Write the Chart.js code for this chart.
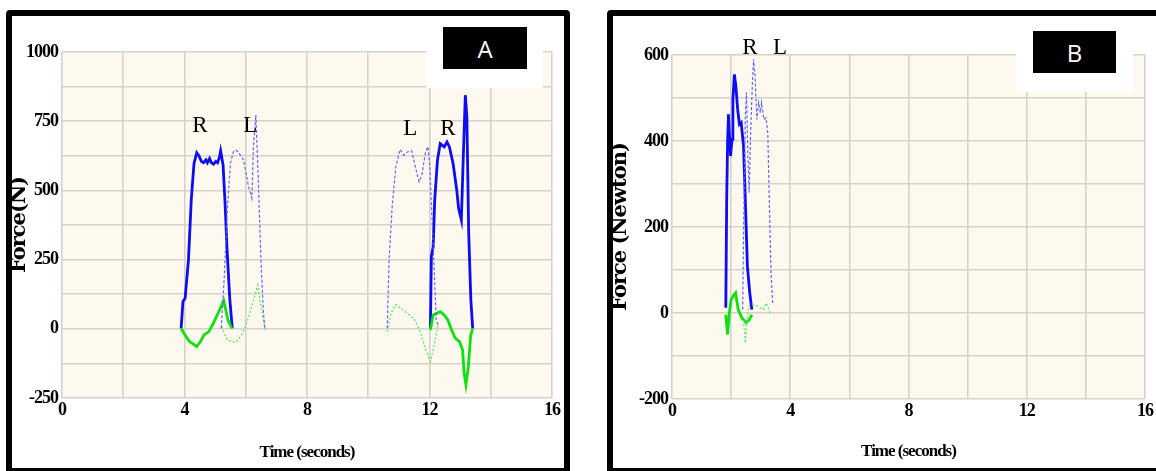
<!DOCTYPE html>
<html><head><meta charset="utf-8">
<script src="https://cdn.jsdelivr.net/npm/chart.js@4"></script>
<style>
html,body{margin:0;padding:0;background:#fff;width:1156px;height:471px;overflow:hidden;position:relative;}
.frame{position:absolute;border:6px solid #000;border-radius:4px;box-sizing:border-box;background:#fff;}
canvas{position:absolute;}
.box{position:absolute;background:#fff;}
.tag{position:absolute;background:#000;color:#fff;font:24px 'Open Sans',sans-serif;display:flex;align-items:center;justify-content:center;}
</style></head><body>
<div class="frame" style="left:6px;top:10px;width:564px;height:464px;"></div>
<div class="frame" style="left:607px;top:10px;width:600px;height:464px;"></div>
<canvas id="cA" width="551" height="452" style="left:12px;top:16px"></canvas>
<canvas id="cB" width="543" height="452" style="left:613px;top:16px"></canvas>
<div class="box" style="left:426px;top:16px;width:117px;height:72px"></div>
<div class="tag" style="left:443px;top:27px;width:84px;height:42px">A</div>
<div class="box" style="left:1016px;top:16px;width:117px;height:76px"></div>
<div class="tag" style="left:1033px;top:31px;width:83px;height:42px">B</div>
<script>
// ---------- Panel A data ----------
// Right foot, vertical force (solid blue)
const aRightVertT1 = [3.89,3.95,4.02,4.13,4.22,4.31,4.40,4.47,4.55,4.62,4.70,4.75,4.82,4.88,4.95,5.02,5.08,5.14,5.18,5.26,5.32,5.39,5.48,5.56];
const aRightVertF1 = [2,99,110,249,465,597,636,625,605,600,610,600,615,600,595,605,600,620,643,591,465,285,105,2];
const aRightVertT2 = [12.03,12.06,12.12,12.17,12.26,12.35,12.48,12.57,12.65,12.77,12.89,12.95,13.04,13.10,13.17,13.22,13.28,13.35,13.41];
const aRightVertF2 = [2,261,297,465,609,669,657,675,657,597,501,435,393,609,844,766,345,105,2];
// Right foot, shear force (solid green)
const aRightShearT1 = [3.89,3.98,4.16,4.40,4.52,4.64,4.80,4.94,5.12,5.28,5.42,5.54];
const aRightShearF1 = [2,-16,-46,-64,-46,-22,-10,20,62,102,32,2];
const aRightShearT2 = [12.03,12.12,12.24,12.35,12.48,12.60,12.72,12.84,12.98,13.08,13.13,13.19,13.27,13.34,13.41];
const aRightShearF2 = [-4,50,56,62,50,32,-4,-34,-46,-76,-160,-202,-136,-28,2];
// Left foot, vertical force (dashed blue)
const aLeftVertT1 = [5.20,5.30,5.39,5.50,5.60,5.66,5.75,5.93,6.09,6.20,6.25,6.33,6.41,6.50,6.58,6.63];
const aLeftVertF1 = [2,189,418,599,640,646,640,610,514,472,659,772,538,237,56,-4];
const aLeftVertT2 = [10.62,10.68,10.78,10.90,11.04,11.16,11.28,11.42,11.51,11.66,11.75,11.87,11.95,12.01,12.08,12.17,12.22,12.28];
const aLeftVertF2 = [2,249,441,585,648,627,639,643,597,531,555,639,658,585,405,165,32,14];
// Left foot, shear force (dashed green)
const aLeftShearT1 = [5.22,5.36,5.54,5.71,5.90,6.08,6.26,6.39,6.50,6.63];
const aLeftShearF1 = [8,-34,-48,-46,-16,38,105,158,81,-3];
const aLeftShearT2 = [10.62,10.74,10.90,11.10,11.34,11.52,11.70,11.87,12.03,12.17,12.28];
const aLeftShearF2 = [-10,56,87,71,50,32,-10,-76,-118,-52,14];
// Foot labels
const aLabelText = ['R','L','L','R'];
const aLabelT = [4.50,6.15,11.37,12.60];
const aLabelF = [733,733,722,722];
const aYTickLabels = [-250,0,250,500,750,1000];
const aXTickLabels = [0,4,8,12,16];

// ---------- Panel B data ----------
const bRightVertT = [1.82,1.85,1.88,1.91,1.94,1.98,2.03,2.06,2.11,2.16,2.22,2.28,2.34,2.42,2.48,2.55,2.63,2.70];
const bRightVertF = [12,264,396,462,419,365,404,497,555,528,474,439,443,388,264,109,47,8];
const bRightShearT = [1.82,1.88,1.94,2.00,2.10,2.15,2.24,2.37,2.51,2.61,2.70];
const bRightShearF = [-4,-50,0,31,43,47,8,-12,-22,-16,-4];
const bLeftVertT = [2.39,2.42,2.48,2.52,2.56,2.61,2.66,2.72,2.76,2.81,2.87,2.93,2.99,3.03,3.11,3.18,3.24,3.29,3.35,3.41];
const bLeftVertF = [8,186,458,513,381,280,419,536,590,551,450,489,466,489,450,454,419,264,93,19];
const bLeftShearT = [2.42,2.48,2.54,2.60,2.72,2.90,3.08,3.20,3.30,3.36];
const bLeftShearF = [-16,-70,-16,16,19,16,8,23,4,-4];
const bLabelText = ['R','L'];
const bLabelT = [2.64,3.65];
const bLabelF = [616,616];
const bYTickLabels = [-200,0,200,400,600];
const bXTickLabels = [0,4,8,12,16];

// ---------- helpers ----------
function pts(t, f){ return t.map((x,i)=>({x:x, y:f[i]})); }
function gap(a, b){ return a.concat([{x:(a[a.length-1].x+b[0].x)/2, y:null}], b); }

const BLUE='#0d0df0', BLUE_L='#6464ff', GREEN='#10e010', GREEN_L='#55e855';
function ds(data, color, width, dash){
  return {data, borderColor:color, borderWidth:width, borderDash:dash||[], pointRadius:0,
          tension:0, fill:false, spanGaps:false};
}

const bgPlugin = {
  id:'plotBg',
  beforeDraw(chart){
    const {ctx, chartArea:a} = chart;
    ctx.save(); ctx.fillStyle='#fdf9ee';
    ctx.fillRect(a.left, a.top, a.right-a.left, a.bottom-a.top);
    ctx.restore();
    ctx.letterSpacing = '-1px';   // condensed look of the original axis lettering
  },
  afterDraw(chart){ chart.ctx.letterSpacing = '0px'; }
};
const labelPlugin = {
  id:'footLabels',
  afterDatasetsDraw(chart, args, opts){
    const {ctx, scales:{x, y}} = chart;
    ctx.save();
    ctx.letterSpacing = '0px';
    ctx.font = "23px 'Liberation Serif', serif";
    ctx.fillStyle = '#000'; ctx.textAlign='center'; ctx.textBaseline='middle';
    opts.text.forEach((s,i)=>ctx.fillText(s, x.getPixelForValue(opts.t[i]), y.getPixelForValue(opts.f[i])));
    ctx.restore();
  }
};

const tickFont = {family:"'Liberation Serif', serif", weight:'bold', size:18};
const gridColor = '#d5d2cc';

function build(id, datasets, cfg){
  return new Chart(document.getElementById(id), {
    type:'line',
    data:{datasets},
    plugins:[bgPlugin, labelPlugin],
    options:{
      responsive:false, animation:false, events:[],
      layout:{padding:{top:cfg.padTop, right:cfg.padRight, left:0, bottom:0}},
      plugins:{legend:{display:false}, tooltip:{enabled:false},
               footLabels:{text:cfg.labText, t:cfg.labT, f:cfg.labF}},
      scales:{
        x:{type:'linear', min:0, max:16,
           afterFit(s){ s.height = cfg.xH; },
           ticks:{stepSize:2, autoSkip:false, maxRotation:0, padding:2, color:'#000', font:tickFont,
                  callback:v=>cfg.xLabels.includes(v)?String(v):''},
           grid:{color:gridColor, lineWidth:1.6, drawTicks:false},
           border:{display:false},
           title:{display:true, text:'Time (seconds)', color:'#000',
                  font:{family:"'Liberation Serif', serif", weight:'bold', size:17, lineHeight:1.2},
                  padding:{top:0, bottom:cfg.xTitlePad}}},
        y:{type:'linear', min:cfg.yMin, max:cfg.yMax,
           afterFit(s){ s.width = cfg.yW; },
           ticks:{stepSize:cfg.yStep, autoSkip:false, padding:4, color:'#000', font:tickFont,
                  callback:v=>cfg.yLabels.includes(v)?String(v):''},
           grid:{color:gridColor, lineWidth:1.6, drawTicks:false},
           border:{display:false},
           title:{display:true, text:cfg.yTitle, color:'#000',
                  font:{family:"'DejaVu Serif', serif", weight:'bold', size:cfg.yTitleSize, lineHeight:1},
                  padding:{top:cfg.yTitlePad, bottom:0}}}
      }
    }
  });
}

build('cA', [
  ds(gap(pts(aLeftVertT1,aLeftVertF1), pts(aLeftVertT2,aLeftVertF2)), BLUE_L, 1.2, [3,2]),
  ds(gap(pts(aLeftShearT1,aLeftShearF1), pts(aLeftShearT2,aLeftShearF2)), GREEN_L, 1.2, [2,2]),
  ds(gap(pts(aRightShearT1,aRightShearF1), pts(aRightShearT2,aRightShearF2)), GREEN, 2.8),
  ds(gap(pts(aRightVertT1,aRightVertF1), pts(aRightVertT2,aRightVertF2)), BLUE, 2.8)
], {padTop:36, padRight:7, xH:70, yW:50, yMin:-250, yMax:1000, yStep:125,
    xLabels:aXTickLabels, yLabels:aYTickLabels, yTitle:'Force(N)', yTitleSize:21, yTitlePad:-3,
    xTitlePad:5, labText:aLabelText, labT:aLabelT, labF:aLabelF});

build('cB', [
  ds(pts(bLeftVertT,bLeftVertF), BLUE_L, 1.2, [3,2]),
  ds(pts(bLeftShearT,bLeftShearF), GREEN_L, 1.2, [2,2]),
  ds(pts(bRightShearT,bRightShearF), GREEN, 2.8),
  ds(pts(bRightVertT,bRightVertF), BLUE, 2.8)
], {padTop:39, padRight:11, xH:69, yW:59, yMin:-200, yMax:600, yStep:100,
    xLabels:bXTickLabels, yLabels:bYTickLabels, yTitle:'Force (Newton)', yTitleSize:21, yTitlePad:-3,
    xTitlePad:6, labText:bLabelText, labT:bLabelT, labF:bLabelF});
</script>
</body></html>
